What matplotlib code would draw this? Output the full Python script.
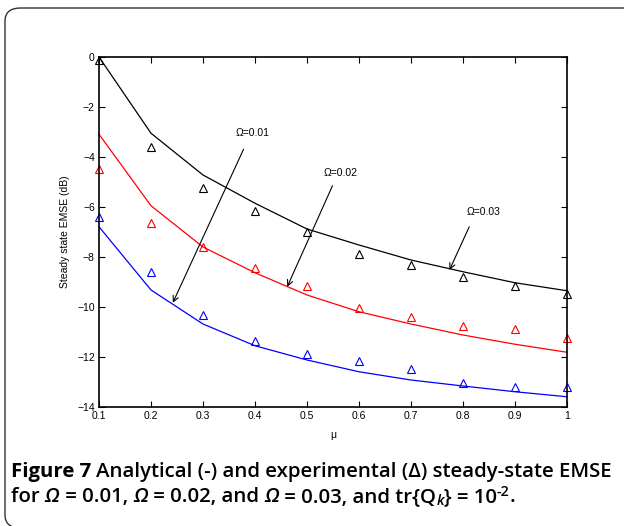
import matplotlib
matplotlib.use("Agg")
import matplotlib.pyplot as plt
from matplotlib.patches import FancyBboxPatch
from matplotlib.font_manager import FontProperties

# data
mu = [0.1, 0.2, 0.3, 0.4, 0.5, 0.6, 0.7, 0.8, 0.9, 1.0]

# analytical curves (lines)
ana_003 = [0.0, -3.05, -4.72, -5.85, -6.88, -7.52, -8.12, -8.59, -9.03, -9.35]
ana_002 = [-3.09, -5.95, -7.6, -8.63, -9.52, -10.19, -10.68, -11.12, -11.49, -11.81]
ana_001 = [-6.79, -9.32, -10.68, -11.55, -12.12, -12.59, -12.92, -13.16, -13.39, -13.59]

# experimental points (triangles)
exp_003 = [-0.12, -3.6, -5.23, -6.14, -7.01, -7.88, -8.32, -8.79, -9.16, -9.48]
exp_002 = [-4.48, -6.63, -7.59, -8.45, -9.16, -10.05, -10.39, -10.76, -10.89, -11.23]
exp_001 = [-6.41, -8.61, -10.32, -11.35, -11.88, -12.16, -12.49, -13.05, -13.21, -13.21]

xticks = [0.1, 0.2, 0.3, 0.4, 0.5, 0.6, 0.7, 0.8, 0.9, 1]
xticklabels = ["0.1", "0.2", "0.3", "0.4", "0.5", "0.6", "0.7", "0.8", "0.9", "1"]
yticks = [0, -2, -4, -6, -8, -10, -12, -14]

# annotations: label, text pos, arrow tail, arrow tip
notes = [
    ("\u03a9=0.01", (0.396, -3.04), (0.378, -3.69), (0.242, -9.83)),
    ("\u03a9=0.02", (0.565, -4.65), (0.549, -5.15), (0.462, -9.19)),
    ("\u03a9=0.03", (0.839, -6.19), (0.812, -6.79), (0.774, -8.52)),
]

# caption pieces: text, weight, style, size factor, vertical shift (px)
cap_line1 = [("Figure 7 ", 'bold', 'normal', 1.0, 0),
             ("Analytical (-) and experimental (\u0394) steady-state EMSE",
              'semibold', 'normal', 1.0, 0)]
cap_line2 = [("for ", 'semibold', 'normal', 1.0, 0),
             ("\u03a9", 'semibold', 'italic', 1.0, 0),
             (" = 0.01, ", 'semibold', 'normal', 1.0, 0),
             ("\u03a9", 'semibold', 'italic', 1.0, 0),
             (" = 0.02, and ", 'semibold', 'normal', 1.0, 0),
             ("\u03a9", 'semibold', 'italic', 1.0, 0),
             (" = 0.03, and tr{Q", 'semibold', 'normal', 1.0, 0),
             ("k", 'semibold', 'italic', 0.7, -3),
             ("} = 10", 'semibold', 'normal', 1.0, 0),
             ("-2", 'semibold', 'normal', 0.7, 6),
             (".", 'semibold', 'normal', 1.0, 0)]

W, H = 624, 526
fig = plt.figure(figsize=(W / 100, H / 100), dpi=100)

# rounded frame around figure + caption (right and bottom run off the image)
frame = FancyBboxPatch((5 / W, 1 - 528 / H), 660 / W, 520 / H,
                       boxstyle="round,pad=0,rounding_size=0.025",
                       transform=fig.transFigure, fill=False,
                       edgecolor='#333333', linewidth=1.0, clip_on=False)
fig.patches.append(frame)

ax = fig.add_axes([99 / W, 1 - 407 / H, 468 / W, 350 / H])

tick_font = {'family': 'Liberation Sans', 'size': 7.5}

for ana, exp, c in [(ana_003, exp_003, 'black'), (ana_002, exp_002, 'red'),
                    (ana_001, exp_001, 'blue')]:
    ax.plot(mu, ana, color=c, linewidth=0.9, clip_on=False)
    ax.plot(mu, exp, linestyle='none', marker='^', markersize=6,
            markerfacecolor='none', markeredgecolor=c, markeredgewidth=0.8,
            clip_on=False)

for label, tpos, tail, tip in notes:
    ax.annotate('', xy=tip, xytext=tail,
                arrowprops=dict(arrowstyle='->', color='black', lw=0.8,
                                mutation_scale=10, shrinkA=0, shrinkB=0))
    ax.text(tpos[0], tpos[1], label, ha='center', va='center', **tick_font)

ax.set_xlim(0.1, 1)
ax.set_ylim(-14, 0)
ax.set_xticks(xticks)
ax.set_xticklabels(xticklabels, **tick_font)
ax.set_yticks(yticks)
ax.set_yticklabels(["\u2212" + str(-t) if t else "0" for t in yticks], **tick_font)
ax.tick_params(direction='in', length=4, width=0.8, top=True, right=True, pad=3)
for s in ax.spines.values():
    s.set_linewidth(1.2)

ax.set_xlabel("\u03bc", fontsize=7.5, family='Liberation Sans', labelpad=6)
ax.set_ylabel("Steady state EMSE (dB)", fontsize=7.5, family='Liberation Sans',
              labelpad=5)

# caption, written piece by piece so bold/italic/sub/superscripts mix
renderer = fig.canvas.get_renderer()


def width_of(s, prop):
    # sentinel trick so leading/trailing spaces count
    w1 = renderer.get_text_width_height_descent("x" + s + "x", prop, ismath=False)[0]
    w0 = renderer.get_text_width_height_descent("xx", prop, ismath=False)[0]
    return w1 - w0


def line_width(chunks, size):
    total = 0
    for text, weight, style, k, dy in chunks:
        prop = FontProperties(family='Open Sans', weight=weight, style=style,
                              size=size * k)
        total += width_of(text, prop)
    return total


def put_line(x, y, chunks, size):
    for text, weight, style, k, dy in chunks:
        prop = FontProperties(family='Open Sans', weight=weight, style=style,
                              size=size * k)
        fig.text(x / W, 1 - (y - dy) / H, text, fontproperties=prop,
                 va='baseline', ha='left')
        x += width_of(text, prop)


# size chosen so line 1 spans the same width as in the figure (11 -> 611 px)
cap_size = 10 * 600 / line_width(cap_line1, 10)
put_line(11, 477, cap_line1, cap_size)
put_line(11, 502, cap_line2, cap_size)

fig.savefig("out.png", dpi=100)
